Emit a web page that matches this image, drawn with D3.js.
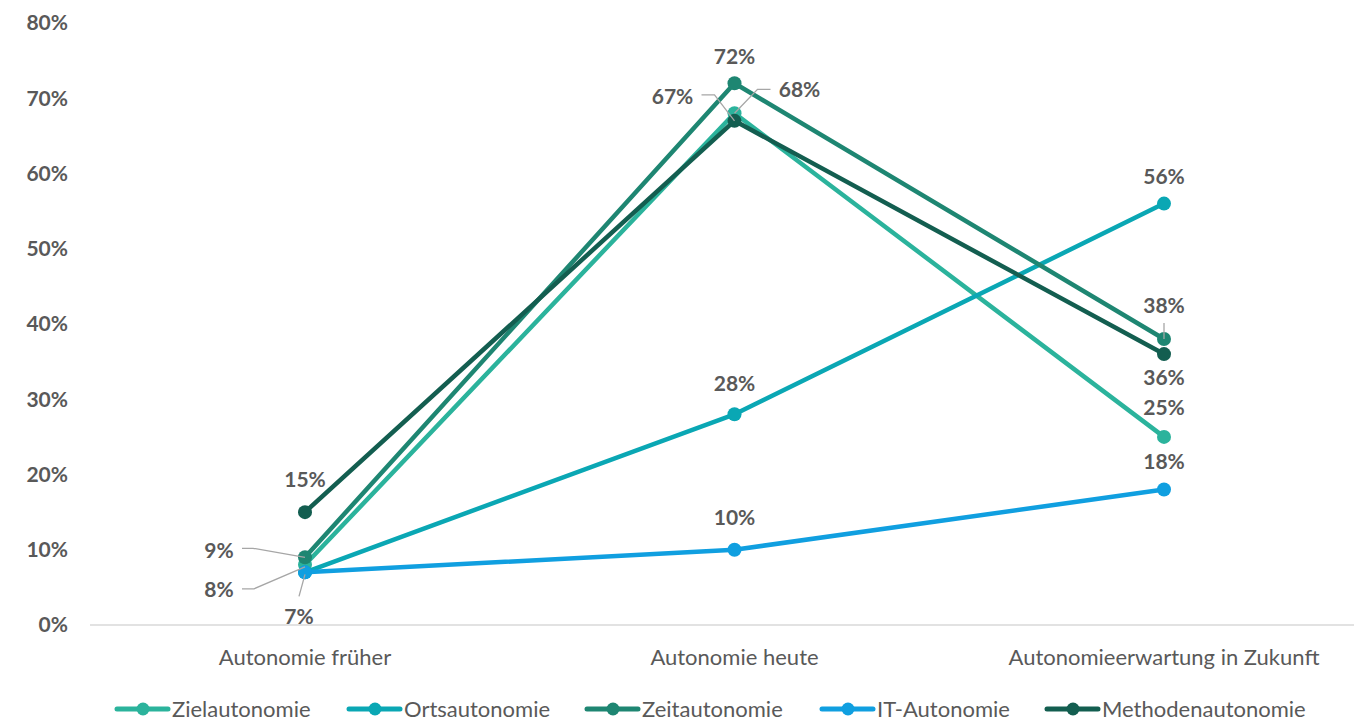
<!DOCTYPE html>
<html>
<head>
<meta charset="utf-8">
<script src="https://cdn.jsdelivr.net/npm/d3@7"></script>
<style>
  body { margin: 0; background: #fff; }
  text { font-family: Lato, "Noto Sans", sans-serif; }
</style>
</head>
<body>
<div id="chart"></div>
<script>
const width = 1354
const height = 722

// data
var categories = ["Autonomie früher", "Autonomie heute", "Autonomieerwartung in Zukunft"]
var seriesNames = ["Zielautonomie", "Ortsautonomie", "Zeitautonomie", "IT-Autonomie", "Methodenautonomie"]
var zielValues = [8, 68, 25]
var ortsValues = [7, 28, 56]
var zeitValues = [9, 72, 38]
var itValues = [7, 10, 18]
var methodenValues = [15, 67, 36]
var yTicks = [0, 10, 20, 30, 40, 50, 60, 70, 80]

var colors = ["#2bb39c", "#0aa7b4", "#1e8672", "#109fe0", "#135e50"]
var allValues = [zielValues, ortsValues, zeitValues, itValues, methodenValues]

// label placement per series/category: offset from point + optional leader line
var labelCfg = [
  [{dx: -86, dy: 25, leader: [[-63, 24], [-51, 24], [0, 2]]}, {dx: 65, dy: -24, leader: [[36, -24], [23, -24], [0, 0]]}, {dx: 0, dy: -29}],
  [null, {dx: 0, dy: -31}, {dx: 0, dy: -27}],
  [{dx: -86, dy: -7, leader: [[-63, -9], [-52, -9], [0, 0]]}, {dx: 0, dy: -27}, {dx: 0, dy: -33, leader: [[0, -16], [0, 0]]}],
  [{dx: -6, dy: 44, leader: [[-6, 24], [0, 2]]}, {dx: 0, dy: -32}, {dx: 0, dy: -28}],
  [{dx: 0, dy: -32}, {dx: -62, dy: -24, leader: [[-33, -26], [-20, -26], [0, 0]]}, {dx: 0, dy: 24}]
]

var svg = d3.select("#chart").append("svg")
  .attr("width", width)
  .attr("height", height)

var x = d3.scalePoint()
  .domain(categories)
  .range([305, 1164])

var y = d3.scaleLinear()
  .domain([0, 80])
  .range([625, 23])

// y tick labels
svg.append("g")
  .selectAll("text")
  .data(yTicks)
  .enter()
  .append("text")
  .attr("x", 68)
  .attr("y", d => y(d))
  .attr("dy", "0.35em")
  .attr("text-anchor", "end")
  .attr("font-size", 21)
  .attr("font-weight", "bold")
  .attr("fill", "#595959")
  .text(d => d + "%")

// x axis line
svg.append("line")
  .attr("x1", 90).attr("x2", 1354)
  .attr("y1", y(0)).attr("y2", y(0))
  .attr("stroke", "#d9d9d9")
  .attr("stroke-width", 1.5)

svg.append("g")
  .selectAll("text")
  .data(categories)
  .enter()
  .append("text")
  .attr("x", d => x(d))
  .attr("y", 657)
  .attr("dy", "0.35em")
  .attr("text-anchor", "middle")
  .attr("font-size", 22)
  .attr("fill", "#595959")
  .text(d => d)

var line = d3.line()
  .x((d, i) => x(categories[i]))
  .y(d => y(d))

// lines + dots
seriesNames.forEach(function(name, s) {
  var vals = allValues[s]
  svg.append("path")
    .datum(vals)
    .attr("fill", "none")
    .attr("stroke", colors[s])
    .attr("stroke-width", 4.5)
    .attr("stroke-linejoin", "round")
    .attr("d", line)
  svg.append("g")
    .selectAll("circle")
    .data(vals)
    .enter()
    .append("circle")
    .attr("cx", (d, i) => x(categories[i]))
    .attr("cy", d => y(d))
    .attr("r", 7)
    .attr("fill", colors[s])
})

// data labels
seriesNames.forEach(function(name, s) {
  allValues[s].forEach(function(v, i) {
    var cfg = labelCfg[s][i]
    if (!cfg) return
    var px = x(categories[i])
    var py = y(v)
    if (cfg.leader) {
      svg.append("path")
        .attr("d", d3.line()(cfg.leader.map(p => [px + p[0], py + p[1]])))
        .attr("fill", "none")
        .attr("stroke", "#a6a6a6")
        .attr("stroke-width", 1.3)
    }
    svg.append("text")
      .attr("x", px + cfg.dx)
      .attr("y", py + cfg.dy)
      .attr("dy", "0.35em")
      .attr("text-anchor", "middle")
      .attr("font-size", 21)
      .attr("font-weight", "bold")
      .attr("fill", "#595959")
      .text(v + "%")
  })
})

// legend
var legendX = [115, 347, 585, 820, 1045]
var legend = svg.append("g")
seriesNames.forEach(function(name, s) {
  var g = legend.append("g").attr("transform", "translate(" + legendX[s] + ",709)")
  g.append("line")
    .attr("x1", 2).attr("x2", 53)
    .attr("y1", 0).attr("y2", 0)
    .attr("stroke", colors[s])
    .attr("stroke-width", 5)
    .attr("stroke-linecap", "round")
  g.append("circle").attr("cx", 28).attr("cy", 0).attr("r", 6.5).attr("fill", colors[s])
  g.append("text")
    .attr("x", 57)
    .attr("y", 0)
    .attr("dy", "0.35em")
    .attr("font-size", 22)
    .attr("fill", "#595959")
    .text(name)
})
</script>
</body>
</html>
